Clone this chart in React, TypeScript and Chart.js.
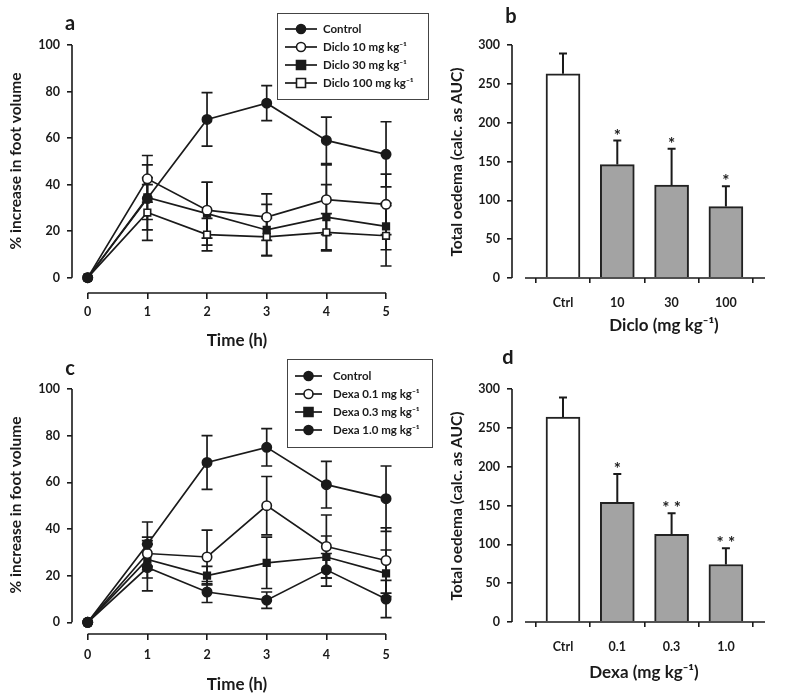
import React, { useEffect, useRef } from "react";
import { Chart, registerables } from "chart.js";

Chart.register(...registerables);

const FONT = 'Lato, "Liberation Sans", sans-serif';
const INK = "#1a1a1a";

// ---------- data ----------
const TIMES = [0, 1, 2, 3, 4, 5];
const TIME_TICKS = [0, 1, 2, 3, 4, 5];
const PCT_TICKS = [0, 20, 40, 60, 80, 100];
const AUC_TICKS = [0, 50, 100, 150, 200, 250, 300];

// panel a
const CONTROL_A = [0, 34, 68, 75, 59, 53];
const CONTROL_A_ERR = [0, 9, 11.5, 7.5, 10, 14];
const DICLO10 = [0, 42.5, 29, 26, 33.5, 31.5];
const DICLO10_ERR = [0, 10, 12, 10, 15, 13];
const DICLO30 = [0, 34.5, 27.5, 20.5, 26, 22];
const DICLO30_ERR = [0, 14, 13.5, 11, 14, 10];
const DICLO100 = [0, 28, 18.5, 17.5, 19.5, 18];
const DICLO100_ERR = [0, 12, 7, 8, 8, 13];

// panel c
const CONTROL_C = [0, 33.5, 68.5, 75, 59, 53];
const CONTROL_C_ERR = [0, 9.5, 11.5, 8, 10, 14];
const DEXA01 = [0, 29.5, 28, 50, 32.5, 26.5];
const DEXA01_ERR = [0, 7, 11.5, 12.5, 13.5, 14];
const DEXA03 = [0, 27, 20, 25.5, 28, 21];
const DEXA03_ERR = [0, 8, 4, 11, 9, 10];
const DEXA10 = [0, 23.5, 13, 9.5, 22.5, 10];
const DEXA10_ERR = [0, 10, 4.5, 3.5, 7, 8];

// panel b
const DICLO_LABELS = ["Ctrl", "10", "30", "100"];
const DICLO_AUC = [263, 146, 119.5, 92];
const DICLO_AUC_ERR = [26, 31, 47, 26];
const DICLO_SIG = ["", "*", "*", "*"];

// panel d
const DEXA_LABELS = ["Ctrl", "0.1", "0.3", "1.0"];
const DEXA_AUC = [264, 154, 113, 74];
const DEXA_AUC_ERR = [25, 36.5, 27, 21];
const DEXA_SIG = ["", "*", "**", "**"];

// ---------- helpers ----------
const pts = (vals: number[]) => TIMES.map((t, i) => ({ x: t, y: vals[i] }));

function drawMarker(ctx: CanvasRenderingContext2D, style: string, filled: boolean, x: number, y: number, r: number) {
  ctx.save();
  ctx.lineWidth = 1.6;
  ctx.strokeStyle = INK;
  ctx.fillStyle = filled ? INK : "#ffffff";
  ctx.beginPath();
  if (style === "rect") ctx.rect(x - r, y - r, 2 * r, 2 * r);
  else ctx.arc(x, y, r, 0, Math.PI * 2);
  ctx.fill();
  ctx.stroke();
  ctx.restore();
}

const decorPlugin = {
  id: "decor",
  beforeDatasetsDraw(chart: any, _args: any, opts: any) {
    if (!opts || opts.kind !== "line") return;
    const ctx = chart.ctx as CanvasRenderingContext2D;
    const xs = chart.scales.x;
    const ys = chart.scales.y;
    ctx.save();
    ctx.strokeStyle = INK;
    ctx.lineWidth = 1.7;
    chart.data.datasets.forEach((ds: any) => {
      ds.data.forEach((p: any, i: number) => {
        const e = ds.errors[i];
        if (!e) return;
        const px = xs.getPixelForValue(p.x);
        const y1 = ys.getPixelForValue(p.y + e);
        const y2 = ys.getPixelForValue(p.y - e);
        ctx.beginPath();
        ctx.moveTo(px, y1);
        ctx.lineTo(px, y2);
        ctx.moveTo(px - 5.5, y1);
        ctx.lineTo(px + 5.5, y1);
        ctx.moveTo(px - 5.5, y2);
        ctx.lineTo(px + 5.5, y2);
        ctx.stroke();
      });
    });
    ctx.restore();
  },
  afterDatasetsDraw(chart: any, _args: any, opts: any) {
    if (!opts || opts.kind !== "bar") return;
    const ctx = chart.ctx as CanvasRenderingContext2D;
    const xs = chart.scales.x;
    const ys = chart.scales.y;
    const ds = chart.data.datasets[0];
    ctx.save();
    ctx.strokeStyle = INK;
    ctx.fillStyle = INK;
    ctx.lineWidth = 2;
    ds.data.forEach((p: any, i: number) => {
      const e = ds.errors[i];
      const px = xs.getPixelForValue(p.x);
      const y0 = ys.getPixelForValue(p.y);
      const y1 = ys.getPixelForValue(p.y + e);
      ctx.beginPath();
      ctx.moveTo(px, y0);
      ctx.lineTo(px, y1);
      ctx.moveTo(px - 4, y1);
      ctx.lineTo(px + 4, y1);
      ctx.stroke();
      const s = ds.sig[i];
      if (s) {
        ctx.font = `bold 17px ${FONT}`;
        ctx.textAlign = "center";
        ctx.textBaseline = "alphabetic";
        ctx.fillText(s.split("").join(" "), px, y1 + 1);
      }
    });
    ctx.restore();
  },
  afterDraw(chart: any, _args: any, opts: any) {
    if (!opts) return;
    const ctx = chart.ctx as CanvasRenderingContext2D;
    const xs = chart.scales.x;
    const ys = chart.scales.y;
    const area = chart.chartArea;
    ctx.save();
    ctx.strokeStyle = INK;
    ctx.lineWidth = 1.6;
    // axis lines
    ctx.beginPath();
    ctx.moveTo(area.left, ys.getPixelForValue(opts.yRange[0]));
    ctx.lineTo(area.left, ys.getPixelForValue(opts.yRange[1]));
    ctx.moveTo(xs.getPixelForValue(opts.xRange[0]), area.bottom);
    ctx.lineTo(xs.getPixelForValue(opts.xRange[1]), area.bottom);
    ctx.stroke();

    ctx.fillStyle = INK;
    // panel letter
    ctx.font = `bold 20px ${FONT}`;
    ctx.textAlign = "center";
    ctx.textBaseline = "middle";
    ctx.fillText(opts.letter.text, opts.letter.x, opts.letter.y);
    // x title
    ctx.font = `bold 17px ${FONT}`;
    ctx.fillText(opts.xTitle.text, opts.xTitle.x, opts.xTitle.y);
    // y title
    ctx.save();
    ctx.translate(opts.yTitle.x, opts.yTitle.y);
    ctx.rotate(-Math.PI / 2);
    ctx.font = `bold 15.5px ${FONT}`;
    ctx.fillText(opts.yTitle.text, 0, 0);
    ctx.restore();

    // legend
    const lg = opts.legend;
    if (lg) {
      ctx.lineWidth = 1;
      ctx.strokeStyle = "#444";
      ctx.fillStyle = "#ffffff";
      ctx.fillRect(lg.x, lg.y, lg.w, lg.h);
      ctx.strokeRect(lg.x + 0.5, lg.y + 0.5, lg.w, lg.h);
      chart.data.datasets.forEach((ds: any, i: number) => {
        const ry = lg.y + lg.first + i * lg.step;
        ctx.strokeStyle = INK;
        ctx.lineWidth = 1.7;
        ctx.beginPath();
        ctx.moveTo(lg.x + lg.lineStart, ry);
        ctx.lineTo(lg.x + lg.lineEnd, ry);
        ctx.stroke();
        drawMarker(ctx, ds.pointStyle, ds.pointBackgroundColor === INK, lg.x + (lg.lineStart + lg.lineEnd) / 2, ry, 4.5);
        ctx.fillStyle = INK;
        ctx.font = `bold 11.5px ${FONT}`;
        ctx.textAlign = "left";
        ctx.textBaseline = "middle";
        ctx.fillText(ds.label, lg.x + lg.textX, ry);
      });
    }
    ctx.restore();
  },
};

function lineDataset(label: string, vals: number[], errs: number[], style: string, filled: boolean) {
  return {
    label,
    data: pts(vals),
    errors: errs,
    borderColor: INK,
    borderWidth: 1.7,
    pointStyle: style,
    pointRadius: 4.7,
    pointHoverRadius: 4.7,
    pointBorderWidth: 1.6,
    pointBorderColor: INK,
    pointBackgroundColor: filled ? INK : "#ffffff",
    clip: false,
    tension: 0,
  };
}

const tickFont = { family: FONT, size: 12.5, weight: "bold" as const };

function axisGrid(len: number) {
  return { drawOnChartArea: false, drawTicks: true, tickLength: len, color: INK, lineWidth: 1.6 };
}

function lineConfig(datasets: any[], p: any) {
  return {
    type: "line",
    data: { datasets },
    plugins: [decorPlugin],
    options: {
      animation: false,
      responsive: false,
      events: [],
      layout: { padding: { top: p.top, left: 0, right: p.right, bottom: 0 } },
      plugins: {
        legend: { display: false },
        tooltip: { enabled: false },
        decor: {
          kind: "line",
          xRange: [0, 5],
          yRange: [0, 100],
          letter: p.letter,
          xTitle: p.xTitle,
          yTitle: p.yTitle,
          legend: p.legend,
        },
      },
      scales: {
        x: {
          type: "linear",
          min: -0.263,
          max: 5.1,
          afterBuildTicks: (s: any) => { s.ticks = TIME_TICKS.map((v) => ({ value: v })); },
          afterFit: (s: any) => { s.height = p.xHeight; },
          grid: axisGrid(6),
          border: { display: false },
          ticks: { font: tickFont, color: INK, padding: p.xPad, maxRotation: 0 },
        },
        y: {
          type: "linear",
          min: p.yMin,
          max: 100,
          afterBuildTicks: (s: any) => { s.ticks = PCT_TICKS.map((v) => ({ value: v })); },
          afterFit: (s: any) => { s.width = 72; },
          grid: axisGrid(5),
          border: { display: false },
          ticks: { font: tickFont, color: INK, padding: 7 },
        },
      },
    },
  };
}

function barConfig(labels: string[], vals: number[], errs: number[], sig: string[], p: any) {
  return {
    type: "bar",
    data: {
      datasets: [
        {
          data: vals.map((v, i) => ({ x: i, y: v })),
          errors: errs,
          sig,
          backgroundColor: vals.map((_, i) => (i === 0 ? "#ffffff" : "#a3a3a3")),
          borderColor: "#222222",
          borderWidth: 2,
          borderSkipped: "bottom",
          barThickness: 34,
        },
      ],
    },
    plugins: [decorPlugin],
    options: {
      animation: false,
      responsive: false,
      events: [],
      layout: { padding: { top: p.top, left: 0, right: 21, bottom: 0 } },
      plugins: {
        legend: { display: false },
        tooltip: { enabled: false },
        decor: {
          kind: "bar",
          xRange: [-0.7, 3.72],
          yRange: [0, 300],
          letter: p.letter,
          xTitle: p.xTitle,
          yTitle: p.yTitle,
          legend: null,
        },
      },
      scales: {
        x: {
          type: "linear",
          offset: false,
          min: -0.939,
          max: 3.72,
          afterBuildTicks: (s: any) => { s.ticks = labels.map((_, i) => ({ value: i })); },
          afterFit: (s: any) => { s.height = p.xHeight; },
          grid: axisGrid(5),
          border: { display: false },
          ticks: { font: tickFont, color: INK, padding: p.xPad, maxRotation: 0, callback: (v: any) => labels[v] },
        },
        y: {
          type: "linear",
          min: 0,
          max: 300,
          afterBuildTicks: (s: any) => { s.ticks = AUC_TICKS.map((v) => ({ value: v })); },
          afterFit: (s: any) => { s.width = 72; },
          grid: axisGrid(5),
          border: { display: false },
          ticks: { font: tickFont, color: INK, padding: 7 },
        },
      },
    },
  };
}

function Panel({ left, top, width, height, make }: { left: number; top: number; width: number; height: number; make: () => any }) {
  const ref = useRef<HTMLCanvasElement>(null);
  useEffect(() => {
    const chart = new Chart(ref.current as HTMLCanvasElement, make());
    return () => chart.destroy();
  }, []);
  return (
    <div style={{ position: "absolute", left, top, width, height }}>
      <canvas ref={ref} width={width} height={height} style={{ display: "block" }} />
    </div>
  );
}

export default function App() {
  useEffect(() => {
    document.body.style.margin = "0";
    document.body.style.background = "#ffffff";
  }, []);

  const makeA = () =>
    lineConfig(
      [
        lineDataset("Control", CONTROL_A, CONTROL_A_ERR, "circle", true),
        lineDataset("Diclo 10 mg kg\u207B\u00B9", DICLO10, DICLO10_ERR, "circle", false),
        lineDataset("Diclo 30 mg kg\u207B\u00B9", DICLO30, DICLO30_ERR, "rect", true),
        lineDataset("Diclo 100 mg kg\u207B\u00B9", DICLO100, DICLO100_ERR, "rect", false),
      ],
      {
        top: 45,
        right: 48,
        xHeight: 57,
        xPad: 5,
        yMin: -6.6,
        letter: { text: "a", x: 70, y: 24 },
        xTitle: { text: "Time (h)", x: 237, y: 341 },
        yTitle: { text: "% increase in foot volume", x: 16, y: 161 },
        legend: { x: 277, y: 13, w: 151, h: 86, first: 16, step: 18, lineStart: 8, lineEnd: 40, textX: 46 },
      }
    );

  const makeC = () =>
    lineConfig(
      [
        lineDataset("Control", CONTROL_C, CONTROL_C_ERR, "circle", true),
        lineDataset("Dexa 0.1 mg kg\u207B\u00B9", DEXA01, DEXA01_ERR, "circle", false),
        lineDataset("Dexa 0.3 mg kg\u207B\u00B9", DEXA03, DEXA03_ERR, "rect", true),
        lineDataset("Dexa 1.0 mg kg\u207B\u00B9", DEXA10, DEXA10_ERR, "circle", true),
      ],
      {
        top: 39,
        right: 48,
        xHeight: 66,
        xPad: 7,
        yMin: -5.0,
        letter: { text: "c", x: 70, y: 19 },
        xTitle: { text: "Time (h)", x: 237, y: 335 },
        yTitle: { text: "% increase in foot volume", x: 16, y: 155 },
        legend: { x: 287, y: 9, w: 145, h: 88, first: 17, step: 18, lineStart: 8, lineEnd: 35, textX: 46 },
      }
    );

  const makeB = () =>
    barConfig(DICLO_LABELS, DICLO_AUC, DICLO_AUC_ERR, DICLO_SIG, {
      top: 45,
      xHeight: 72,
      xPad: 12,
      letter: { text: "b", x: 71, y: 17 },
      xTitle: { text: "Diclo (mg kg\u207B\u00B9)", x: 224, y: 326 },
      yTitle: { text: "Total oedema (calc. as AUC)", x: 17, y: 162 },
    });

  const makeD = () =>
    barConfig(DEXA_LABELS, DEXA_AUC, DEXA_AUC_ERR, DEXA_SIG, {
      top: 39,
      xHeight: 78,
      xPad: 12,
      letter: { text: "d", x: 68, y: 8 },
      xTitle: { text: "Dexa (mg kg\u207B\u00B9)", x: 204, y: 323 },
      yTitle: { text: "Total oedema (calc. as AUC)", x: 17, y: 156 },
    });

  return (
    <div style={{ position: "relative", width: 786, height: 700, background: "#ffffff" }}>
      <Panel left={0} top={0} width={440} height={350} make={makeA} />
      <Panel left={440} top={0} width={346} height={350} make={makeB} />
      <Panel left={0} top={350} width={440} height={350} make={makeC} />
      <Panel left={440} top={350} width={346} height={350} make={makeD} />
    </div>
  );
}
